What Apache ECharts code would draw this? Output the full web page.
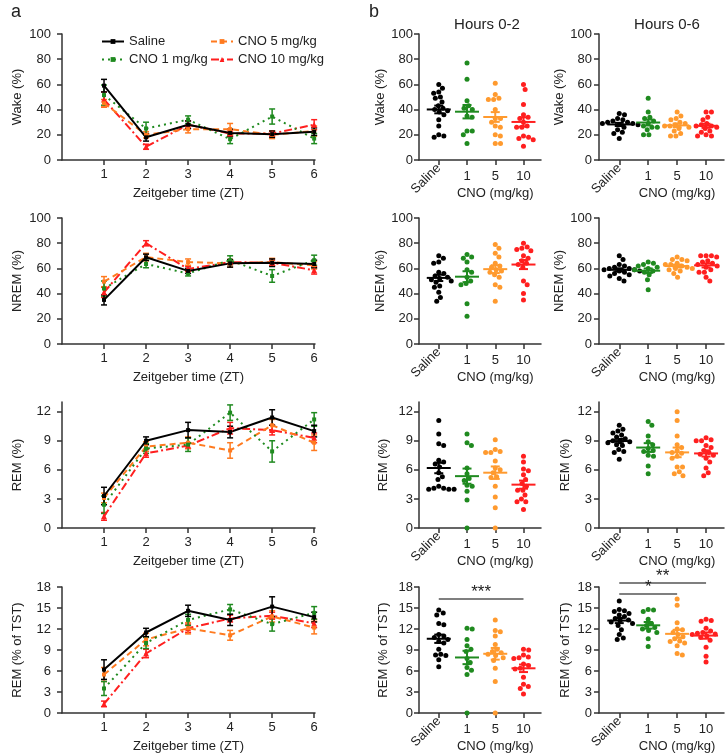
<!DOCTYPE html>
<html>
<head>
<meta charset="utf-8">
<script src="https://cdn.jsdelivr.net/npm/echarts@6/dist/echarts.min.js"></script>
<style>
html, body { margin: 0; padding: 0; background: #fff; }
#chart { width: 726px; height: 754px; }
</style>
</head>
<body>
<div id="chart"></div>
<script>
const ztHours = [1, 2, 3, 4, 5, 6]
const doseLabels = ['Saline', '1', '5', '10']
const groupNames = ['Saline', 'CNO 1 mg/kg', 'CNO 5 mg/kg', 'CNO 10 mg/kg']

// panel a, [mean, sem] per ZT hour
const wakeSaline = [[59, 5], [18, 3], [28, 3], [21.5, 3], [20.5, 2.5], [22.5, 3]]
const wakeCno1 = [[51.5, 8], [25, 5], [32, 3], [16.5, 3.5], [34.5, 6], [17, 4]]
const wakeCno5 = [[45, 3], [20, 2.5], [24.5, 3], [24.5, 4.5], [20, 3], [23, 4]]
const wakeCno10 = [[48, 6], [10.5, 2], [28, 3], [21, 2], [21, 2], [28, 4]]

const nremSaline = [[35, 4], [68.8, 2.5], [58, 2], [64, 3], [64.5, 3], [63.5, 3]]
const nremCno1 = [[44, 6], [63.5, 3], [56, 2], [66.5, 3.5], [54, 5], [66.5, 4]]
const nremCno5 = [[49.5, 4], [69, 3], [65, 2.5], [64, 3], [65, 3], [62.5, 3]]
const nremCno10 = [[41, 4], [80, 2], [59.5, 2], [65, 2], [64.5, 2], [58.5, 3]]

const remSaline = [[3.3, 0.9], [9.0, 0.4], [10.1, 0.8], [9.9, 0.6], [11.4, 0.8], [10.0, 0.6]]
const remCno1 = [[2.4, 0.9], [8.2, 0.5], [8.6, 0.7], [11.9, 0.8], [7.9, 1.1], [11.2, 0.7]]
const remCno5 = [[3.1, 0.5], [8.4, 0.5], [8.8, 0.6], [8.0, 0.8], [10.6, 0.6], [8.8, 0.8]]
const remCno10 = [[1.2, 0.4], [7.7, 0.4], [8.5, 0.3], [10.3, 0.6], [10.1, 0.5], [9.3, 0.5]]

const tstSaline = [[6.2, 1.4], [11.5, 0.6], [14.6, 0.8], [13.3, 0.8], [15.2, 1.4], [13.7, 0.7]]
const tstCno1 = [[3.5, 1.0], [10.0, 0.8], [13.3, 0.8], [14.8, 0.7], [12.7, 1.0], [14.3, 0.9]]
const tstCno5 = [[5.5, 1.0], [10.5, 0.9], [12.1, 0.8], [11.1, 0.7], [13.8, 0.8], [12.2, 0.9]]
const tstCno10 = [[1.3, 0.4], [8.5, 0.6], [12.1, 0.6], [13.5, 0.5], [13.9, 0.5], [12.8, 0.6]]

// panel b, single animals, hours 0-2
const wake02Saline = [60, 57, 54, 53, 50, 49, 46, 43, 41, 40, 39, 38, 36, 32, 27, 20, 19, 18]
const wake02Cno1 = [77, 64, 47, 43, 41, 40, 35, 34, 23, 23, 20, 13]
const wake02Cno5 = [61, 52, 49, 48, 48, 40, 33, 33, 30, 27, 26, 20, 19, 13, 13]
const wake02Cno10 = [60, 56, 44, 36, 34, 33, 30, 27, 26, 26, 19, 18, 17, 16, 11]

const nrem02Saline = [70, 68, 65, 64, 57, 56, 54, 53, 52, 51, 50, 49, 46, 45, 41, 37, 34]
const nrem02Cno1 = [71, 69, 68, 65, 59, 57, 53, 50, 48, 47, 32, 22]
const nrem02Cno5 = [79, 76, 72, 69, 62, 64, 61, 59, 58, 57, 55, 53, 47, 45, 34]
const nrem02Cno10 = [80, 77, 76, 75, 74, 70, 68, 66, 64, 63, 61, 50, 47, 40, 35]

const rem02Saline = [11.1, 9.7, 8.7, 8.5, 7.0, 6.8, 6.6, 6.3, 5.7, 5.3, 5.0, 4.3, 4.1, 4.1, 4.0, 4.0, 4.0]
const rem02Cno1 = [9.7, 8.8, 8.5, 6.2, 5.6, 4.9, 5.1, 4.4, 4.3, 3.8, 2.9, 0]
const rem02Cno5 = [9.1, 8.1, 7.9, 7.8, 7.8, 6.9, 6.2, 6.0, 5.7, 5.3, 5.2, 4.3, 3.2, 2.1, 0]
const rem02Cno10 = [7.4, 6.8, 6.1, 5.9, 5.5, 5.0, 4.6, 3.9, 4.3, 3.9, 3.4, 3.0, 2.7, 2.7, 1.9]

const tst02Saline = [14.7, 14.3, 14.0, 12.6, 12.8, 11.2, 10.8, 11.0, 10.5, 10.2, 10.0, 9.1, 8.4, 8.3, 8.2, 7.6, 6.6]
const tst02Cno1 = [12.1, 12.0, 10.5, 9.1, 9.6, 8.8, 7.8, 7.2, 6.1, 6.5, 5.5, 0]
const tst02Cno5 = [13.3, 11.8, 11.6, 11.0, 9.8, 9.1, 8.8, 8.6, 8.4, 8.2, 7.9, 7.5, 6.4, 4.5, 0]
const tst02Cno10 = [9.1, 9.0, 8.3, 8.0, 7.9, 7.8, 7.0, 6.8, 6.4, 6.3, 5.1, 4.1, 3.8, 3.5, 2.7]

// panel b, single animals, hours 0-6
const wake06Saline = [37, 36, 33, 32, 31, 30, 30, 29, 29, 28, 28, 27, 26, 24, 22, 21, 17]
const wake06Cno1 = [49, 38, 34, 33, 31, 29, 27, 26, 26, 24, 20, 20]
const wake06Cno5 = [38, 35, 33, 32, 30, 29, 28, 27, 27, 26, 25, 23, 21, 19, 19]
const wake06Cno10 = [38, 38, 34, 32, 29, 28, 27, 27, 26, 25, 23, 22, 20, 19, 19]

const nrem06Saline = [70, 67, 63, 62, 61, 60, 60, 59, 59, 58, 58, 57, 56, 55, 54, 52, 50]
const nrem06Cno1 = [65, 64, 63, 62, 61, 60, 59, 58, 57, 55, 51, 43]
const nrem06Cno5 = [69, 67, 67, 66, 64, 63, 63, 62, 61, 60, 60, 59, 58, 56, 53]
const nrem06Cno10 = [70, 70, 70, 69, 66, 65, 64, 63, 62, 61, 59, 57, 57, 53, 50]

const rem06Saline = [10.6, 10.2, 10.0, 9.8, 9.6, 9.4, 9.2, 9.0, 9.0, 8.9, 8.8, 8.6, 8.5, 8.1, 7.9, 7.8, 7.1]
const rem06Cno1 = [11.0, 10.6, 9.5, 8.9, 8.6, 8.2, 8.0, 7.9, 7.5, 7.4, 6.4, 5.6]
const rem06Cno5 = [12.0, 11.1, 9.5, 8.6, 8.3, 8.0, 7.8, 7.7, 7.4, 7.2, 6.3, 6.3, 5.8, 5.6, 5.4]
const rem06Cno10 = [9.3, 9.1, 9.0, 9.0, 8.5, 8.3, 8.0, 7.8, 7.6, 7.5, 7.2, 6.8, 6.2, 5.7, 5.4]

const tst06Saline = [16.0, 14.8, 14.6, 14.5, 14.2, 14.0, 13.8, 13.5, 13.3, 13.2, 13.0, 12.8, 12.5, 11.9, 11.2, 10.7, 10.5]
const tst06Cno1 = [14.8, 14.7, 14.5, 13.4, 12.8, 12.5, 12.2, 12.0, 11.8, 11.5, 10.6, 9.5]
const tst06Cno5 = [16.3, 15.4, 12.9, 12.0, 11.9, 11.5, 11.2, 10.9, 10.6, 10.3, 10.2, 10.0, 9.6, 8.5, 8.3]
const tst06Cno10 = [13.4, 13.2, 13.1, 12.1, 11.7, 11.5, 11.4, 11.3, 11.2, 11.0, 10.8, 10.4, 9.4, 8.1, 7.3]

// significance: [from dose, to dose, height, stars]
const sig02 = [[1, 4, 16.3, '***']]
const sig06 = [[1, 4, 18.57, '**'], [1, 3, 17.0, '*']]

const lineColors = ['#000000', '#1f8a1f', '#ff7a1f', '#ff1f1f']
const dotColors = ['#000000', '#1f8a1f', '#ff9a2e', '#ff1f1f']
const dashTypes = ['solid', [2, 4], [6, 4], [8, 3, 2, 3]]
const symbols = ['rect', 'rect', 'rect', 'triangle']

const rows = [
    {name: 'Wake (%)', max: 100, ticks: [0, 20, 40, 60, 80, 100],
        lines: [wakeSaline, wakeCno1, wakeCno5, wakeCno10],
        h02: [wake02Saline, wake02Cno1, wake02Cno5, wake02Cno10],
        h06: [wake06Saline, wake06Cno1, wake06Cno5, wake06Cno10]},
    {name: 'NREM (%)', max: 100, ticks: [0, 20, 40, 60, 80, 100],
        lines: [nremSaline, nremCno1, nremCno5, nremCno10],
        h02: [nrem02Saline, nrem02Cno1, nrem02Cno5, nrem02Cno10],
        h06: [nrem06Saline, nrem06Cno1, nrem06Cno5, nrem06Cno10]},
    {name: 'REM (%)', max: 13, ticks: [0, 3, 6, 9, 12],
        lines: [remSaline, remCno1, remCno5, remCno10],
        h02: [rem02Saline, rem02Cno1, rem02Cno5, rem02Cno10],
        h06: [rem06Saline, rem06Cno1, rem06Cno5, rem06Cno10]},
    {name: 'REM (% of TST)', max: 18, ticks: [0, 3, 6, 9, 12, 15, 18],
        lines: [tstSaline, tstCno1, tstCno5, tstCno10],
        h02: [tst02Saline, tst02Cno1, tst02Cno5, tst02Cno10],
        h06: [tst06Saline, tst06Cno1, tst06Cno5, tst06Cno10],
        sig02: sig02, sig06: sig06}
]

const FONT = '"Liberation Sans", Arial, sans-serif'
const TXT = '#222'
const AX = '#333'
const rowTops = [34, 218, 402, 587]
const rowH = 126
const cols = [
    {left: 62, width: 253, labelMargin: 11, nameGap: 38},
    {left: 419, width: 122, labelMargin: 6, nameGap: 29},
    {left: 599, width: 125, labelMargin: 7, nameGap: 27}
]

// beeswarm: each dot goes to the smallest side shift that does not overlap dots already placed
function swarm(values, pos, yMax) {
    const pxY = rowH / yMax, pxX = 28.5, d = 5.3
    const placed = []
    const out = []
    const order = values.map((v, i) => i).sort((a, b) => values[b] - values[a])
    order.forEach(i => {
        const py = values[i] * pxY
        const near = placed.filter(p => Math.abs(p[1] - py) < d)
        const cands = [0]
        near.forEach(p => {
            const dx = Math.sqrt(d * d - (p[1] - py) * (p[1] - py))
            cands.push(p[0] + dx, p[0] - dx)
        })
        cands.sort((a, b) => Math.abs(a) - Math.abs(b) || b - a)
        let off = cands.find(c => near.every(p => Math.hypot(p[0] - c, p[1] - py) >= d - 0.01))
        if (off === undefined) off = 0
        placed.push([off, py])
        out.push([pos + off / pxX, values[i]])
    })
    return out
}

function meanSem(values) {
    const n = values.length
    const m = values.reduce((a, b) => a + b, 0) / n
    const sd = Math.sqrt(values.reduce((a, b) => a + (b - m) * (b - m), 0) / (n - 1))
    return [m, sd / Math.sqrt(n)]
}

const grid = []
const xAxis = []
const yAxis = []
const series = []
const cnoAxes = []

function yAxisFor(gi, row, col) {
    return {
        gridIndex: gi, type: 'value', min: 0, max: row.max,
        name: row.name, nameLocation: 'middle', nameGap: col.nameGap,
        nameTextStyle: {fontSize: 13, color: TXT, fontFamily: FONT},
        axisLine: {show: true, lineStyle: {color: AX, width: 1.5}},
        axisTick: {show: true, length: 5, lineStyle: {color: AX, width: 1.5}, customValues: row.ticks},
        axisLabel: {fontSize: 13, color: TXT, fontFamily: FONT, margin: col.labelMargin, customValues: row.ticks},
        splitLine: {show: false}
    }
}

const errRender = (color, cap) => (params, api) => {
    const x = api.value(0), m = api.value(1), s = api.value(2)
    const t = api.coord([x, m + s]), b = api.coord([x, m - s])
    const st = {stroke: color, lineWidth: 1.5}
    return {type: 'group', children: [
        {type: 'line', shape: {x1: t[0], y1: t[1], x2: b[0], y2: b[1]}, style: st},
        {type: 'line', shape: {x1: t[0] - cap, y1: t[1], x2: t[0] + cap, y2: t[1]}, style: st},
        {type: 'line', shape: {x1: b[0] - cap, y1: b[1], x2: b[0] + cap, y2: b[1]}, style: st}
    ]}
}

rows.forEach((row, r) => {
    // left column: time course
    let gi = grid.length
    grid.push({left: cols[0].left, top: rowTops[r], width: cols[0].width, height: rowH})
    let xi = xAxis.length
    xAxis.push({
        gridIndex: gi, type: 'value', min: 0, max: 6.02, position: 'bottom',
        name: 'Zeitgeber time (ZT)', nameLocation: 'middle', nameGap: 27,
        nameTextStyle: {fontSize: 13, color: TXT, fontFamily: FONT},
        axisLine: {show: true, lineStyle: {color: AX, width: 1.5}},
        axisTick: {show: true, length: 5, lineStyle: {color: AX, width: 1.5}, customValues: ztHours},
        axisLabel: {fontSize: 13, color: TXT, fontFamily: FONT, margin: 8, customValues: ztHours},
        splitLine: {show: false}
    })
    let yi = yAxis.length
    yAxis.push(yAxisFor(gi, row, cols[0]))
    ;[3, 2, 1, 0].forEach(g => {
        const pts = row.lines[g]
        series.push({
            type: 'custom', xAxisIndex: xi, yAxisIndex: yi, z: 3, silent: true,
            renderItem: errRender(lineColors[g], 3),
            data: pts.map((p, i) => [ztHours[i], p[0], p[1]])
        })
        series.push({
            name: groupNames[g], type: 'line', xAxisIndex: xi, yAxisIndex: yi, z: 4,
            symbol: symbols[g], symbolSize: g === 3 ? 6 : 4, showSymbol: true,
            itemStyle: {color: lineColors[g]},
            lineStyle: {color: lineColors[g], width: 2, type: dashTypes[g]},
            data: pts.map((p, i) => [ztHours[i], p[0]])
        })
    })

    // right columns: hours 0-2 and 0-6
    ;['h02', 'h06'].forEach((key, c) => {
        const col = cols[c + 1]
        gi = grid.length
        grid.push({left: col.left, top: rowTops[r], width: col.width, height: rowH})
        xi = xAxis.length
        xAxis.push({
            gridIndex: gi, type: 'value', min: 0.3, max: 4.62, position: 'bottom',
            axisLine: {show: true, lineStyle: {color: AX, width: 1.5}},
            axisTick: {show: true, length: 5, lineStyle: {color: AX, width: 1.5}, customValues: [1, 2, 3, 4]},
            axisLabel: {fontSize: 13, color: TXT, fontFamily: FONT, margin: 6, rotate: 45,
                customValues: [1], formatter: v => doseLabels[Math.round(v) - 1]},
            splitLine: {show: false}
        })
        xAxis.push({
            gridIndex: gi, type: 'value', min: 0.3, max: 4.62, position: 'bottom', offset: 0,
            axisLine: {show: false}, axisTick: {show: false},
            axisLabel: {fontSize: 13, color: TXT, fontFamily: FONT, margin: 10,
                customValues: [2, 3, 4], formatter: v => doseLabels[Math.round(v) - 1]},
            splitLine: {show: false}
        })
        cnoAxes.push({xAxisIndex: xi, top: rowTops[r] + rowH})
        yi = yAxis.length
        yAxis.push(yAxisFor(gi, row, col))
        const stats = []
        row[key].forEach((vals, g) => {
            series.push({
                type: 'scatter', xAxisIndex: xi, yAxisIndex: yi, z: 2, silent: true,
                symbolSize: 5, itemStyle: {color: dotColors[g], opacity: 1},
                data: swarm(vals, g + 1, row.max)
            })
            const ms = meanSem(vals)
            stats.push([g + 1, ms[0], ms[1], g])
        })
        series.push({
            type: 'custom', xAxisIndex: xi, yAxisIndex: yi, z: 5, silent: true,
            renderItem: (params, api) => {
                const x = api.value(0), m = api.value(1), s = api.value(2), g = api.value(3)
                const cm = api.coord([x, m]), t = api.coord([x, m + s]), b = api.coord([x, m - s])
                const st = {stroke: dotColors[g], lineWidth: 2}
                return {type: 'group', children: [
                    {type: 'line', shape: {x1: cm[0] - 12, y1: cm[1], x2: cm[0] + 12, y2: cm[1]}, style: st},
                    {type: 'line', shape: {x1: t[0], y1: t[1], x2: b[0], y2: b[1]}, style: st},
                    {type: 'line', shape: {x1: t[0] - 4.5, y1: t[1], x2: t[0] + 4.5, y2: t[1]}, style: st},
                    {type: 'line', shape: {x1: b[0] - 4.5, y1: b[1], x2: b[0] + 4.5, y2: b[1]}, style: st}
                ]}
            },
            data: stats
        })
        const sig = c === 0 ? row.sig02 : row.sig06
        if (sig) {
            series.push({
                type: 'custom', xAxisIndex: xi, yAxisIndex: yi, z: 6, silent: true, clip: false,
                renderItem: (params, api) => {
                    const s = sig[params.dataIndex]
                    const a = api.coord([s[0], s[2]]), b = api.coord([s[1], s[2]])
                    return {type: 'group', children: [
                        {type: 'line', shape: {x1: a[0], y1: a[1], x2: b[0], y2: b[1]},
                            style: {stroke: '#555', lineWidth: 1.5}},
                        {type: 'text', x: (a[0] + b[0]) / 2, y: a[1] + 2,
                            style: {text: s[3], fill: TXT, fontSize: 17, fontFamily: FONT,
                                align: 'center', verticalAlign: 'bottom'}}
                    ]}
                },
                data: sig.map(s => [s[0], s[2]])
            })
        }
    })
})

const chart = echarts.init(document.getElementById('chart'), null, {renderer: 'canvas'})
const option = {
    backgroundColor: '#fff',
    animation: false,
    textStyle: {fontFamily: FONT},
    title: [
        {text: 'a', left: 6, top: -2, textStyle: {fontSize: 18, fontWeight: 'normal', color: TXT, fontFamily: FONT}},
        {text: 'b', left: 364, top: -2, textStyle: {fontSize: 18, fontWeight: 'normal', color: TXT, fontFamily: FONT}},
        {text: 'Hours 0-2', left: 482, top: 12, textAlign: 'center',
            textStyle: {fontSize: 15, fontWeight: 'normal', color: TXT, fontFamily: FONT}},
        {text: 'Hours 0-6', left: 662, top: 12, textAlign: 'center',
            textStyle: {fontSize: 15, fontWeight: 'normal', color: TXT, fontFamily: FONT}}
    ],
    legend: [
        {data: [groupNames[0], groupNames[1]], orient: 'vertical', left: 101, top: 35,
            itemWidth: 22, itemHeight: 6, itemGap: 5, padding: [0, 0, 0, 0],
            textStyle: {fontSize: 13, color: TXT, fontFamily: FONT}},
        {data: [groupNames[2], groupNames[3]], orient: 'vertical', left: 210, top: 35,
            itemWidth: 22, itemHeight: 6, itemGap: 5, padding: [0, 0, 0, 0],
            textStyle: {fontSize: 13, color: TXT, fontFamily: FONT}}
    ],
    grid: grid,
    xAxis: xAxis,
    yAxis: yAxis,
    series: series
}
chart.setOption(option)

// "CNO (mg/kg)" under the three dose ticks of each dot panel
const graphic = cnoAxes.map(a => {
    const x = chart.convertToPixel({xAxisIndex: a.xAxisIndex}, 3)
    return {type: 'text', x: x, y: a.top + 33,
        style: {text: 'CNO (mg/kg)', fill: TXT, fontSize: 13, fontFamily: FONT,
            align: 'center', verticalAlign: 'middle'}}
})
chart.setOption({graphic: graphic})
</script>
</body>
</html>
